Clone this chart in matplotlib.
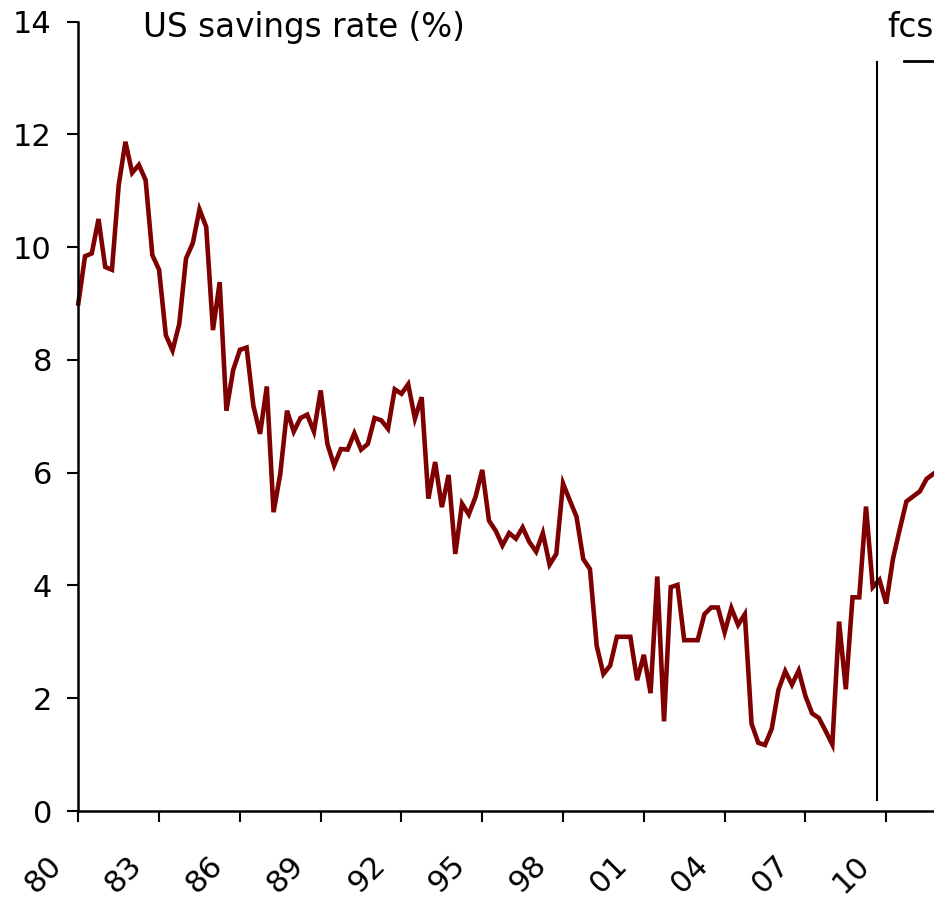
import numpy as np
import matplotlib
matplotlib.use('Agg')
import matplotlib.pyplot as plt
from matplotlib.transforms import ScaledTranslation

# quarterly US personal savings rate, 1980Q1 onwards (%)
savings = [9.0, 9.84, 9.89, 10.5, 9.65, 9.6, 11.1, 11.87, 11.32, 11.46,
           11.19, 9.86, 9.6, 8.44, 8.17, 8.64, 9.8, 10.07, 10.67, 10.36,
           8.53, 9.38, 7.1, 7.82, 8.18, 8.22, 7.19, 6.69, 7.53, 5.3,
           5.98, 7.1, 6.73, 6.97, 7.03, 6.73, 7.46, 6.51, 6.13, 6.42,
           6.41, 6.70, 6.41, 6.51, 6.97, 6.93, 6.78, 7.48, 7.40, 7.57,
           6.96, 7.34, 5.54, 6.19, 5.39, 5.96, 4.56, 5.45, 5.26, 5.57,
           6.05, 5.15, 4.97, 4.71, 4.93, 4.83, 5.03, 4.77, 4.60, 4.93,
           4.37, 4.56, 5.81, 5.51, 5.22, 4.47, 4.29, 2.93, 2.43, 2.58,
           3.09, 3.09, 3.09, 2.32, 2.77, 2.09, 4.16, 1.59, 3.97, 4.01,
           3.03, 3.03, 3.03, 3.49, 3.61, 3.61, 3.17, 3.60, 3.30, 3.49,
           1.55, 1.21, 1.17, 1.46, 2.15, 2.48, 2.24, 2.49, 2.04, 1.73,
           1.65, 1.42, 1.18, 3.36, 2.16, 3.79, 3.79, 5.40, 3.97, 4.10,
           3.68, 4.47, 4.99, 5.49, 5.58, 5.67, 5.89, 5.98]
start_year = 1980
tick_years = [1980, 1983, 1986, 1989, 1992, 1995, 1998, 2001, 2004, 2007, 2010]
tick_labels = ['80', '83', '86', '89', '92', '95', '98', '01', '04', '07', '10']
y_ticks = [0, 2, 4, 6, 8, 10, 12, 14]
forecast_start = 2009.65

dates = start_year + np.arange(len(savings)) / 4.0

fig = plt.figure(figsize=(9.34, 8.97), dpi=100)
ax = fig.add_axes([78.3 / 934, 86 / 897, 1 - 78.3 / 934, (811 - 21.7) / 897])

ax.plot(dates, savings, color='#7f0000', lw=3.3, solid_joinstyle='miter', clip_on=False)

# forecast marker
ax.plot([forecast_start, forecast_start], [0.2, 13.28], color='black', lw=1.5)
ax.plot([2010.66, 2012.5], [13.3, 13.3], color='black', lw=2, clip_on=False)
ax.text(2010.03, 13.72, 'fcs', fontsize=23.5, ha='left', va='baseline', clip_on=False)

ax.set_xlim(1980, 2011.775)
ax.set_ylim(0, 14)
ax.set_yticks(y_ticks)
ax.set_xticks(tick_years)
ax.set_xticklabels(tick_labels, rotation=45, ha='right', va='top')

for s in ['top', 'right']:
    ax.spines[s].set_visible(False)
for s in ['left', 'bottom']:
    ax.spines[s].set_linewidth(1.8)

ax.tick_params(axis='both', direction='out', length=8, width=1.5, labelsize=22)
ax.tick_params(axis='y', pad=11)
ax.tick_params(axis='x', pad=20)
for lab in ax.get_xticklabels():
    lab.set_transform(lab.get_transform() + ScaledTranslation(-0.11, 0, fig.dpi_scale_trans))

fig.text(143 / 934, 1 - 37 / 897, 'US savings rate (%)', fontsize=23.5, ha='left', va='baseline')

plt.savefig('out.png', dpi=100)
